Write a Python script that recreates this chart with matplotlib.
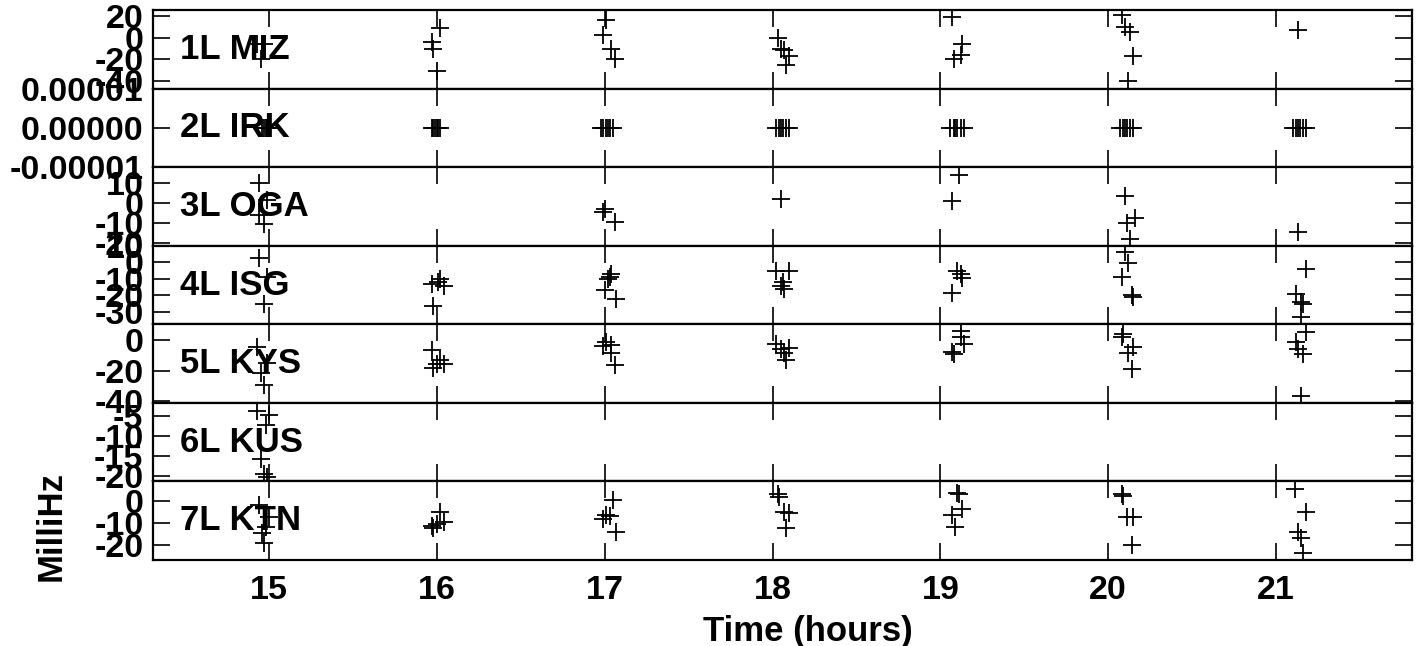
import matplotlib
matplotlib.use("Agg")
import matplotlib.pyplot as plt
from matplotlib.ticker import FormatStrFormatter, FixedLocator

plt.rcParams['font.family'] = ['Liberation Sans', 'DejaVu Sans']
plt.rcParams['font.weight'] = 'bold'
plt.rcParams['axes.unicode_minus'] = False

stations = ["1L MIZ", "2L IRK", "3L OGA", "4L ISG", "5L KYS", "6L KUS", "7L KTN"]

miz_t = [14.93, 14.97, 14.95, 16.02, 15.97, 15.98, 16.00, 17.01, 16.99, 17.04, 17.06,
         18.03, 18.05, 18.07, 18.10, 18.08, 19.07, 19.13, 19.12, 19.08,
         20.08, 20.10, 20.13, 20.15, 20.12, 21.13]
miz_v = [-6.0, -6.0, -19.7, 9.0, -4.1, -10.3, -31.6, 16.2, 2.8, -10.3, -19.7,
         -0.9, -10.3, -11.9, -17.6, -25.1, 19.3, -6.3, -16.6, -19.7,
         20.9, 10.0, 5.3, -17.6, -40.1, 6.9]

irk_t = [14.96, 14.97, 14.98, 14.99, 15.00,
         15.97, 15.98, 15.99, 16.00, 16.01, 16.02,
         16.98, 16.99, 17.01, 17.02, 17.03, 17.05,
         18.02, 18.04, 18.05, 18.06, 18.08, 18.10,
         19.06, 19.08, 19.09, 19.10, 19.12, 19.14,
         20.07, 20.09, 20.10, 20.11, 20.13, 20.15,
         21.10, 21.12, 21.13, 21.14, 21.16, 21.18]
irk_v = [0.0] * 41

oga_t = [14.94, 14.99, 14.94, 14.97, 17.00, 16.99, 17.06, 18.05, 19.11, 19.07,
         20.10, 20.16, 20.11, 20.13, 21.13]
oga_v = [9.7, 1.4, -5.8, -10.5, -3.2, -4.7, -9.2, 2.0, 13.7, 1.2,
         3.7, -7.5, -10.0, -17.8, -14.2]

isg_t = [14.94, 14.99, 14.97, 16.02, 16.01, 15.97, 16.04, 15.98,
         17.04, 17.03, 17.02, 17.00, 17.07,
         18.02, 18.10, 18.06, 18.05, 18.07,
         19.10, 19.12, 19.13, 19.07,
         20.10, 20.12, 20.08, 20.14, 20.15,
         21.18, 21.12, 21.15, 21.16, 21.15]
isg_v = [2.4, -9.0, -25.0, -10.0, -11.6, -13.0, -14.0, -26.6,
         -7.0, -8.6, -10.0, -16.6, -22.0,
         -5.4, -5.0, -12.0, -14.0, -16.0,
         -5.0, -7.0, -9.4, -18.6,
         6.0, -0.6, -8.6, -20.0, -21.0,
         -4.0, -19.0, -24.0, -25.4, -33.0]

kys_t = [14.93, 14.99, 14.95, 14.97,
         15.97, 16.02, 16.00, 15.98, 16.04,
         17.01, 16.99, 17.04, 17.04, 17.06,
         18.02, 18.10, 18.05, 18.07, 18.08,
         19.12, 19.14, 19.12, 19.07, 19.08,
         20.09, 20.08, 20.15, 20.12, 20.14,
         21.18, 21.12, 21.13, 21.16, 21.15]
kys_v = [-4.3, -15.1, -21.4, -28.9,
         -6.1, -13.1, -15.3, -17.9, -15.3,
         -1.1, -3.9, -3.3, -8.3, -16.4,
         -2.2, -4.8, -5.8, -8.3, -13.1,
         6.1, -2.2, 2.2, -7.7, -8.7,
         4.4, 2.2, -4.4, -8.3, -18.6,
         5.4, -1.1, -5.4, -8.7, -36.5]

kus_t = [14.93, 15.00, 14.98, 14.95, 14.97, 14.99]
kus_v = [-3.6, -4.6, -7.3, -15.7, -19.6, -20.2]

ktn_t = [14.94, 15.00, 14.98, 14.96, 14.97,
         16.02, 15.97, 16.04, 16.00, 15.98,
         17.05, 17.01, 17.03, 16.99, 17.07,
         18.03, 18.04, 18.07, 18.10, 18.08,
         19.10, 19.11, 19.13, 19.07, 19.09,
         20.08, 20.09, 20.11, 20.15, 20.14,
         21.11, 21.18, 21.13, 21.15, 21.16]
ktn_v = [-1.8, -7.1, -11.6, -14.5, -19.0,
         -4.8, -11.3, -9.3, -10.4, -12.0,
         0.8, -6.3, -6.8, -8.1, -13.8,
         3.2, 1.9, -4.8, -5.5, -12.3,
         3.7, 3.2, -3.7, -6.3, -11.6,
         3.2, 2.3, -7.3, -7.3, -19.8,
         5.7, -4.8, -13.8, -16.8, -23.3]

series_t = [miz_t, irk_t, oga_t, isg_t, kys_t, kus_t, ktn_t]
series_v = [miz_v, irk_v, oga_v, isg_v, kys_v, kus_v, ktn_v]

y_ticks = [[-40, -20, 0, 20], [-1e-5, 0, 1e-5], [-20, -10, 0, 10],
           [-30, -20, -10, 0, 10], [-40, -20, 0], [-20, -15, -10, -5], [-20, -10, 0]]
y_lims = [(-47.5, 25.6), (-1e-5, 1e-5), (-21.2, 17.8), (-37.4, 10.05),
          (-40.9, 10.5), (-21.4, -1.6), (-26.6, 9.0)]
x_ticks = [15, 16, 17, 18, 19, 20, 21]
x_lim = (14.31, 21.81)

fig, axes = plt.subplots(7, 1, sharex=True, figsize=(14.18, 6.46), dpi=100)
fig.subplots_adjust(left=0.108, right=0.9958, top=0.9845, bottom=0.1331, hspace=0)

FS = 24.5
for i, ax in enumerate(axes):
    ax.plot(series_t[i], series_v[i], linestyle='none', marker='+', color='black',
            markersize=12.5, markeredgewidth=1.3)
    ax.set_ylim(*y_lims[i])
    ax.yaxis.set_major_locator(FixedLocator(y_ticks[i]))
    if i == 1:
        ax.yaxis.set_major_formatter(FormatStrFormatter('%.5f'))
    else:
        ax.yaxis.set_major_formatter(FormatStrFormatter('%d'))
    ax.set_xlim(*x_lim)
    ax.xaxis.set_major_locator(FixedLocator(x_ticks))
    ax.tick_params(axis='both', which='major', direction='in', length=12.5, width=1.2,
                   labelsize=FS, top=True, right=True, color='black')
    ax.tick_params(axis='y', pad=7)
    ax.tick_params(axis='x', pad=11)
    ax.minorticks_off()
    for sp in ax.spines.values():
        sp.set_linewidth(1.6)
        sp.set_color('black')
    ax.text(0.0214, 0.5, stations[i], transform=ax.transAxes, fontsize=25,
            fontweight='bold', va='center', ha='left', color='black')
    for lab in ax.get_yticklabels():
        lab.set_fontweight('bold')

axes[-1].set_xlabel("Time (hours)", fontsize=25, fontweight='bold')
axes[-1].xaxis.set_label_coords(0.52, -0.70)
axes[-1].set_ylabel("MilliHz", fontsize=25, fontweight='bold')
axes[-1].yaxis.set_label_coords(-0.068, 0.43)
for lab in axes[-1].get_xticklabels():
    lab.set_fontweight('bold')

fig.savefig("out.png", dpi=100)
